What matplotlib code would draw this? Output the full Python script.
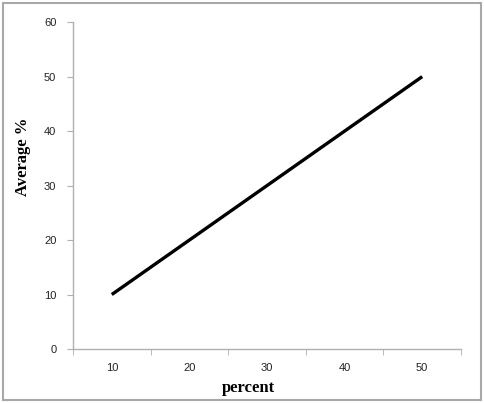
import matplotlib
matplotlib.use("Agg")
import matplotlib.pyplot as plt
from matplotlib.patches import Rectangle

percent = [10, 20, 30, 40, 50]
average = [10, 20, 30, 40, 50]
y_ticks = [0, 10, 20, 30, 40, 50, 60]

fig = plt.figure(figsize=(4.85, 4.03), dpi=100)
ax = fig.add_axes([0.1505, 0.134, 0.80, 0.811])

ax.plot(percent, average, color="black", linewidth=2.4, solid_capstyle="butt")

ax.set_xlim(5, 55)
ax.set_ylim(0, 60)
ax.set_yticks(y_ticks)
ax.set_xticks(percent)
ax.set_xticks([5, 15, 25, 35, 45, 55], minor=True)

for s in ["top", "right"]:
    ax.spines[s].set_visible(False)
for s in ["left", "bottom"]:
    ax.spines[s].set_color("#b0b0b0")
    ax.spines[s].set_linewidth(1.0)

ax.tick_params(axis="x", which="major", length=0, pad=10, labelsize=8, labelcolor="#222222")
ax.tick_params(axis="x", which="minor", length=4, color="#b0b0b0", direction="out")
ax.tick_params(axis="y", length=4, color="#b0b0b0", pad=8, labelsize=8, labelcolor="#222222")
for lbl in ax.get_xticklabels() + ax.get_yticklabels():
    lbl.set_family("Liberation Sans")

fig.text(0.513, 0.037, "percent", ha="center", va="center", fontsize=12,
         fontweight="bold", family="Liberation Serif")
fig.text(0.047, 0.61, "Average %", ha="center", va="center", rotation=90, fontsize=12,
         fontweight="bold", family="Liberation Serif")

fig.patches.append(Rectangle((0.006, 0.008), 0.986, 0.984, transform=fig.transFigure,
                             fill=False, edgecolor="#a8a8a8", linewidth=1.5))

fig.savefig("out.png", dpi=100)
